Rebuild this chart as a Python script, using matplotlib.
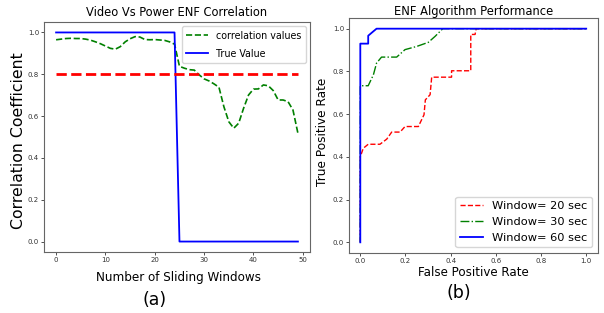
import matplotlib
matplotlib.use("Agg")
import matplotlib.pyplot as plt
import numpy as np

# ---------------- data ----------------
windows = list(range(50))
correlation_values = [0.965, 0.968, 0.971, 0.972, 0.971, 0.971, 0.968, 0.963, 0.955, 0.946,
                      0.935, 0.924, 0.920, 0.932, 0.955, 0.970, 0.980, 0.978, 0.966, 0.965,
                      0.966, 0.964, 0.962, 0.955, 0.944, 0.838, 0.829, 0.822, 0.820, 0.797,
                      0.778, 0.768, 0.754, 0.738, 0.645, 0.573, 0.542, 0.566, 0.638, 0.701,
                      0.729, 0.730, 0.749, 0.745, 0.722, 0.677, 0.677, 0.669, 0.629, 0.518]
true_value = [1.0] * 25 + [0.0] * 25
threshold = [0.8] * 50

fpr_20 = [0.0, 0.0, 0.013, 0.035, 0.087, 0.117, 0.139, 0.176, 0.198, 0.257, 0.282, 0.288,
          0.309, 0.316, 0.404, 0.404, 0.489, 0.489, 0.508, 0.513, 1.0]
tpr_20 = [0.0, 0.40, 0.44, 0.459, 0.459, 0.483, 0.516, 0.516, 0.542, 0.542, 0.597, 0.667,
          0.691, 0.773, 0.773, 0.803, 0.803, 0.973, 0.973, 1.0, 1.0]
fpr_30 = [0.0, 0.0, 0.013, 0.035, 0.058, 0.072, 0.094, 0.12, 0.161, 0.198, 0.25, 0.301,
          0.331, 0.365, 1.0]
tpr_30 = [0.0, 0.733, 0.733, 0.733, 0.784, 0.839, 0.867, 0.867, 0.867, 0.902, 0.917, 0.936,
          0.964, 1.0, 1.0]
fpr_60 = [0.0, 0.0, 0.035, 0.035, 0.055, 0.072, 1.0]
tpr_60 = [0.0, 0.93, 0.93, 0.967, 0.985, 1.0, 1.0]

left_xticks = [0, 10, 20, 30, 40, 50]
unit_ticks = [0.0, 0.2, 0.4, 0.6, 0.8, 1.0]

# ---------------- figure ----------------
plt.rcParams['font.family'] = ['DejaVu Sans']
fig = plt.figure(figsize=(6.04, 3.13), dpi=100)
W, H = 604, 313

def axes_px(l, t, r, b):
    return fig.add_axes([l / W, 1 - b / H, (r - l) / W, (b - t) / H])

spine_col = '#666666'
cond = dict(fontstretch='condensed')

# ---- left panel ----
L1, T1, R1, B1 = 44, 22, 310, 252
ax1 = axes_px(L1, T1, R1, B1)
ax1.plot(windows, correlation_values, '--', color='green', lw=1.2, label='correlation values')
ax1.plot(windows, true_value, '-', color='blue', lw=1.3, label='True Value')
ax1.plot(windows, threshold, '--', color='red', lw=2.0)
ax1.set_xticks(left_xticks)
ax1.set_yticks(unit_ticks)
ax1.set_yticklabels(['%.1f' % v for v in unit_ticks])
ax1.tick_params(labelsize=5, length=2.0, width=0.6, pad=1.6, colors='#333333')
ax1.set_title('Video Vs Power ENF Correlation', fontsize=9.2, pad=4, **cond)
ax1.set_xlabel('Number of Sliding Windows', fontsize=9.5, va='center', **cond)
ax1.xaxis.set_label_coords((178.5 - L1) / (R1 - L1), (B1 - 277) / (B1 - T1))
ax1.set_ylabel('Correlation Coefficient', fontsize=11.3, va='center')
ax1.yaxis.set_label_coords((19 - L1) / (R1 - L1), (B1 - 141) / (B1 - T1))
leg1 = ax1.legend(loc='upper right', prop=dict(size=7.7, stretch='condensed'),
                  borderaxespad=0.4, handlelength=2.0, labelspacing=0.75)
for s in ax1.spines.values():
    s.set_color(spine_col)

fig.text(155 / W, 1 - 300 / H, '(a)', fontsize=12.5, ha='center', va='center')

# ---- right panel ----
L2, T2, R2, B2 = 349, 18, 597.5, 253
ax2 = axes_px(L2, T2, R2, B2)
ax2.plot(fpr_20, tpr_20, '--', color='red', lw=1.0, label='Window= 20 sec')
ax2.plot(fpr_30, tpr_30, '-.', color='green', lw=1.0, label='Window= 30 sec')
ax2.plot(fpr_60, tpr_60, '-', color='blue', lw=1.3, label='Window= 60 sec')
ax2.set_xticks(unit_ticks)
ax2.set_yticks(unit_ticks)
ax2.set_xticklabels(['%.1f' % v for v in unit_ticks])
ax2.set_yticklabels(['%.1f' % v for v in unit_ticks])
ax2.tick_params(labelsize=5, length=2.0, width=0.6, pad=1.6, colors='#333333')
ax2.set_title('ENF Algorithm Performance', fontsize=8.3, pad=2.5)
ax2.set_xlabel('False Positive Rate', fontsize=8.6, va='center')
ax2.xaxis.set_label_coords((473 - L2) / (R2 - L2), (B2 - 272.5) / (B2 - T2))
ax2.set_ylabel('True Positive Rate', fontsize=8.7, va='center')
ax2.yaxis.set_label_coords((323 - L2) / (R2 - L2), (B2 - 132) / (B2 - T2))
ax2.legend(loc='lower right', fontsize=8.2, handlelength=2.0, labelspacing=0.5)
for s in ax2.spines.values():
    s.set_color(spine_col)

fig.text(459 / W, 1 - 293 / H, '(b)', fontsize=12.5, ha='center', va='center')

fig.savefig('out.png', dpi=100)
